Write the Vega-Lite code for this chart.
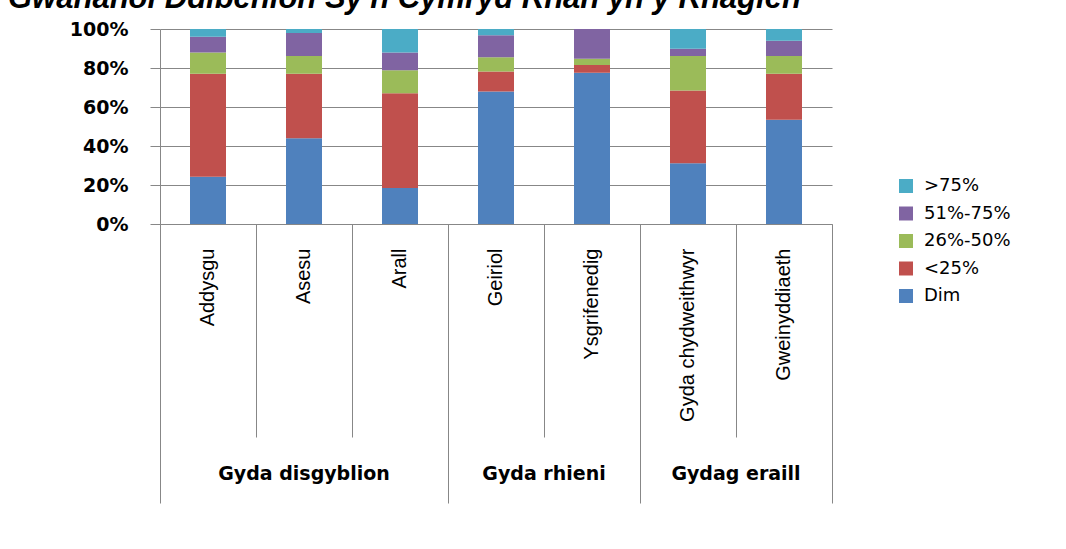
{
  "$schema": "https://vega.github.io/schema/vega-lite/v6.json",
  "width": 672,
  "height": 195,
  "autosize": {"type": "none"},
  "padding": {"left": 160, "top": 29, "right": 234, "bottom": 325},
  "background": "white",
  "title": {
    "text": "Gwahanol Ddibenion Sy'n Cymryd Rhan yn y Rhaglen",
    "anchor": "start",
    "frame": "group",
    "font": "Liberation Sans",
    "fontSize": 31,
    "fontWeight": "bold",
    "fontStyle": "italic",
    "color": "#000000",
    "baseline": "alphabetic",
    "offset": 0,
    "dx": -152,
    "dy": 19
  },
  "data": {
    "values": [
      {"group": "Gyda disgyblion", "cat": "Addysgu", "level": "Dim", "rank": 1, "value": 24.2},
      {"group": "Gyda disgyblion", "cat": "Addysgu", "level": "<25%", "rank": 2, "value": 52.8},
      {"group": "Gyda disgyblion", "cat": "Addysgu", "level": "26%-50%", "rank": 3, "value": 11.0},
      {"group": "Gyda disgyblion", "cat": "Addysgu", "level": "51%-75%", "rank": 4, "value": 8.0},
      {"group": "Gyda disgyblion", "cat": "Addysgu", "level": ">75%", "rank": 5, "value": 4.0},
      {"group": "Gyda disgyblion", "cat": "Asesu", "level": "Dim", "rank": 1, "value": 44.0},
      {"group": "Gyda disgyblion", "cat": "Asesu", "level": "<25%", "rank": 2, "value": 33.0},
      {"group": "Gyda disgyblion", "cat": "Asesu", "level": "26%-50%", "rank": 3, "value": 9.2},
      {"group": "Gyda disgyblion", "cat": "Asesu", "level": "51%-75%", "rank": 4, "value": 11.8},
      {"group": "Gyda disgyblion", "cat": "Asesu", "level": ">75%", "rank": 5, "value": 2.0},
      {"group": "Gyda disgyblion", "cat": "Arall", "level": "Dim", "rank": 1, "value": 18.4},
      {"group": "Gyda disgyblion", "cat": "Arall", "level": "<25%", "rank": 2, "value": 48.7},
      {"group": "Gyda disgyblion", "cat": "Arall", "level": "26%-50%", "rank": 3, "value": 11.7},
      {"group": "Gyda disgyblion", "cat": "Arall", "level": "51%-75%", "rank": 4, "value": 9.2},
      {"group": "Gyda disgyblion", "cat": "Arall", "level": ">75%", "rank": 5, "value": 12.0},
      {"group": "Gyda rhieni", "cat": "Geiriol", "level": "Dim", "rank": 1, "value": 67.9},
      {"group": "Gyda rhieni", "cat": "Geiriol", "level": "<25%", "rank": 2, "value": 10.3},
      {"group": "Gyda rhieni", "cat": "Geiriol", "level": "26%-50%", "rank": 3, "value": 7.3},
      {"group": "Gyda rhieni", "cat": "Geiriol", "level": "51%-75%", "rank": 4, "value": 11.3},
      {"group": "Gyda rhieni", "cat": "Geiriol", "level": ">75%", "rank": 5, "value": 3.2},
      {"group": "Gyda rhieni", "cat": "Ysgrifenedig", "level": "Dim", "rank": 1, "value": 77.6},
      {"group": "Gyda rhieni", "cat": "Ysgrifenedig", "level": "<25%", "rank": 2, "value": 4.0},
      {"group": "Gyda rhieni", "cat": "Ysgrifenedig", "level": "26%-50%", "rank": 3, "value": 3.2},
      {"group": "Gyda rhieni", "cat": "Ysgrifenedig", "level": "51%-75%", "rank": 4, "value": 15.2},
      {"group": "Gyda rhieni", "cat": "Ysgrifenedig", "level": ">75%", "rank": 5, "value": 0},
      {"group": "Gydag eraill", "cat": "Gyda chydweithwyr", "level": "Dim", "rank": 1, "value": 31.1},
      {"group": "Gydag eraill", "cat": "Gyda chydweithwyr", "level": "<25%", "rank": 2, "value": 37.3},
      {"group": "Gydag eraill", "cat": "Gyda chydweithwyr", "level": "26%-50%", "rank": 3, "value": 17.8},
      {"group": "Gydag eraill", "cat": "Gyda chydweithwyr", "level": "51%-75%", "rank": 4, "value": 3.7},
      {"group": "Gydag eraill", "cat": "Gyda chydweithwyr", "level": ">75%", "rank": 5, "value": 10.1},
      {"group": "Gydag eraill", "cat": "Gweinyddiaeth", "level": "Dim", "rank": 1, "value": 53.4},
      {"group": "Gydag eraill", "cat": "Gweinyddiaeth", "level": "<25%", "rank": 2, "value": 23.6},
      {"group": "Gydag eraill", "cat": "Gweinyddiaeth", "level": "26%-50%", "rank": 3, "value": 9.2},
      {"group": "Gydag eraill", "cat": "Gweinyddiaeth", "level": "51%-75%", "rank": 4, "value": 7.8},
      {"group": "Gydag eraill", "cat": "Gweinyddiaeth", "level": ">75%", "rank": 5, "value": 6.0}
    ]
  },
  "layer": [
    {
      "mark": {"type": "bar", "width": {"band": 0.375}},
      "encoding": {
        "x": {
          "field": "cat",
          "type": "nominal",
          "sort": ["Addysgu", "Asesu", "Arall", "Geiriol", "Ysgrifenedig", "Gyda chydweithwyr", "Gweinyddiaeth"],
          "scale": {"paddingInner": 0, "paddingOuter": 0},
          "axis": {
            "orient": "bottom",
            "title": null,
            "ticks": false,
            "domain": false,
            "labelAngle": -90,
            "labelAlign": "right",
            "labelBaseline": "middle",
            "labelPadding": 24,
            "labelFont": "Liberation Sans",
            "labelFontSize": 20,
            "labelColor": "#000000"
          }
        },
        "y": {
          "field": "value",
          "type": "quantitative",
          "stack": "normalize",
          "scale": {"domain": [0, 1]},
          "axis": {
            "title": null,
            "values": [0, 0.2, 0.4, 0.6, 0.8, 1],
            "format": ".0%",
            "grid": true,
            "gridColor": "#878787",
            "domainColor": "#878787",
            "tickColor": "#878787",
            "tickSize": 10,
            "labelPadding": 22,
            "labelFont": "DejaVu Sans",
            "labelFontWeight": "bold",
            "labelFontSize": 19,
            "labelColor": "#000000"
          }
        },
        "order": {"field": "rank", "type": "quantitative", "sort": "ascending"},
        "color": {
          "field": "level",
          "type": "nominal",
          "scale": {
            "domain": [">75%", "51%-75%", "26%-50%", "<25%", "Dim"],
            "range": ["#4BACC6", "#8064A2", "#9BBB59", "#C0504D", "#4F81BD"]
          },
          "legend": {
            "title": null,
            "orient": "none",
            "legendX": 737,
            "legendY": 148,
            "symbolType": "square",
            "symbolSize": 196,
            "symbolStrokeWidth": 0,
            "labelFont": "DejaVu Sans",
            "labelFontSize": 18,
            "labelColor": "#000000",
            "labelOffset": 9,
            "rowPadding": 9.5,
            "padding": 0
          }
        }
      }
    },
    {
      "mark": {"type": "bar", "opacity": 0},
      "encoding": {
        "x": {
          "field": "cat",
          "type": "nominal",
          "sort": ["Addysgu", "Asesu", "Arall", "Geiriol", "Ysgrifenedig", "Gyda chydweithwyr", "Gweinyddiaeth"],
          "axis": {
            "orient": "bottom",
            "title": null,
            "labels": false,
            "grid": false,
            "domain": true,
            "domainColor": "#878787",
            "tickColor": "#878787",
            "tickBand": "extent",
            "tickSize": {
              "condition": {"test": "datum.index < 0 || indexof(['Arall', 'Ysgrifenedig', 'Gweinyddiaeth'], datum.value) >= 0", "value": 279},
              "value": 213
            }
          }
        }
      }
    },
    {
      "mark": {"type": "bar", "opacity": 0},
      "encoding": {
        "x": {
          "field": "cat",
          "type": "nominal",
          "sort": ["Addysgu", "Asesu", "Arall", "Geiriol", "Ysgrifenedig", "Gyda chydweithwyr", "Gweinyddiaeth"],
          "axis": {
            "orient": "bottom",
            "title": null,
            "values": ["Asesu"],
            "labelExpr": "'Gyda disgyblion'",
            "ticks": false,
            "domain": false,
            "grid": false,
            "labelAngle": 0,
            "labelAlign": "center",
            "labelBaseline": "alphabetic",
            "labelPadding": 255,
            "labelFont": "DejaVu Sans",
            "labelFontWeight": "bold",
            "labelFontSize": 19,
            "labelColor": "#000000"
          }
        }
      }
    },
    {
      "mark": {"type": "bar", "opacity": 0},
      "encoding": {
        "x": {
          "field": "cat",
          "type": "nominal",
          "sort": ["Addysgu", "Asesu", "Arall", "Geiriol", "Ysgrifenedig", "Gyda chydweithwyr", "Gweinyddiaeth"],
          "axis": {
            "orient": "bottom",
            "title": null,
            "values": ["Geiriol", "Gyda chydweithwyr"],
            "labelExpr": "datum.value === 'Geiriol' ? 'Gyda rhieni' : 'Gydag eraill'",
            "labelOffset": 48,
            "ticks": false,
            "domain": false,
            "grid": false,
            "labelAngle": 0,
            "labelAlign": "center",
            "labelBaseline": "alphabetic",
            "labelPadding": 255,
            "labelFont": "DejaVu Sans",
            "labelFontWeight": "bold",
            "labelFontSize": 19,
            "labelColor": "#000000"
          }
        }
      }
    }
  ],
  "resolve": {"axis": {"x": "independent"}},
  "config": {
    "view": {"stroke": null},
    "axis": {"labelOverlap": false}
  }
}
